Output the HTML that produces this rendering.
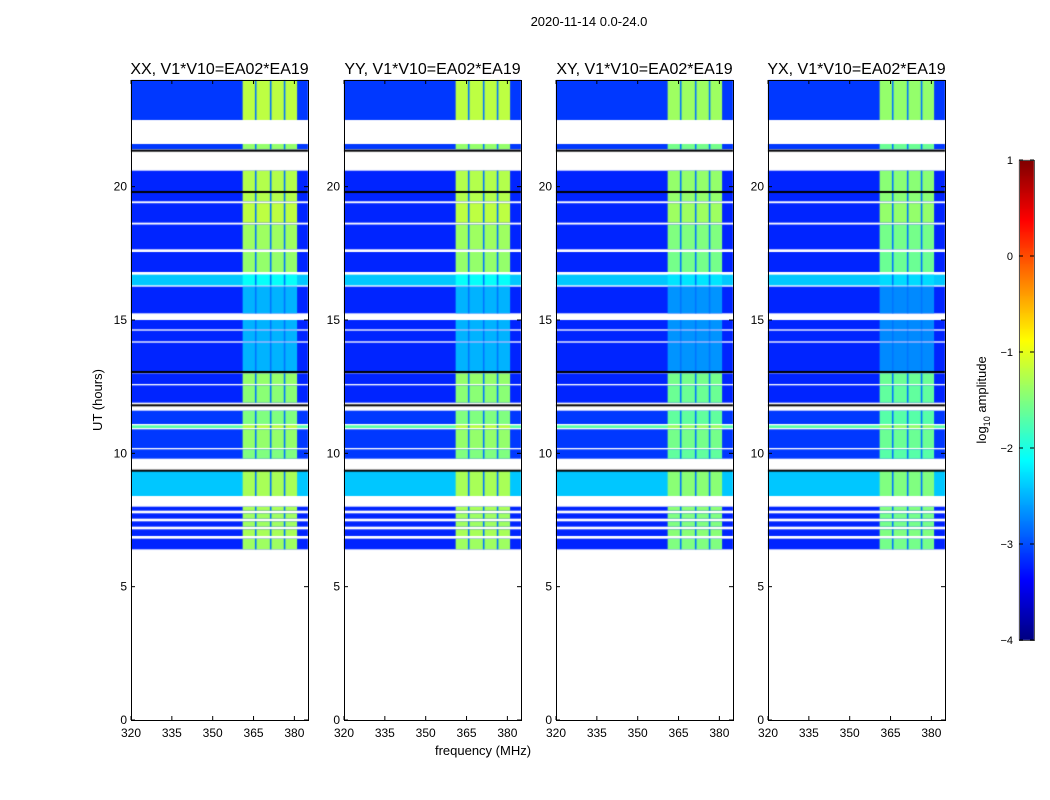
<!DOCTYPE html>
<html><head><meta charset="utf-8">
<style>
body{margin:0;background:#fff;font-family:"Liberation Sans",sans-serif;}
#wrap{position:relative;width:1050px;height:800px;overflow:hidden;}
canvas,svg{position:absolute;left:0;top:0;}
</style></head>
<body>
<div id="wrap">
<canvas id="cv" width="1050" height="800"></canvas>
<svg id="sv" width="1050" height="800"></svg>
</div>
<script>
// ---- data ----
const panelTitles = ["XX, V1*V10=EA02*EA19","YY, V1*V10=EA02*EA19","XY, V1*V10=EA02*EA19","YX, V1*V10=EA02*EA19"];
const xTicks = [320,335,350,365,380];
const yTicks = [0,5,10,15,20];
const cbTicks = [1,0,-1,-2,-3,-4];
// time segments: start hour, end hour
const segStart = [22.5,21.4,19.45,18.65,17.65,16.8,16.3,15.25,14.65,14.2,13.05,12.6,11.9,11.1,10.95,10.2,9.8,8.4,7.85,7.55,7.25,6.9,6.4];
const segEnd   = [24.0,21.6,20.6,19.38,18.58,17.55,16.7,16.25,15.0,14.6,14.15,13.0,12.55,11.6,11.05,10.9,10.15,9.35,8.0,7.75,7.45,7.15,6.8];
// log10 amplitude outside RFI band and inside band
const segBase  = [-3.1,-3.1,-3.2,-3.2,-3.2,-3.2,-2.4,-3.2,-3.2,-3.2,-3.2,-3.2,-3.2,-3.1,-1.7,-3.1,-3.1,-2.4,-3.2,-3.2,-3.2,-3.2,-3.2];
const segBand  = [-1.2,-1.4,-1.25,-1.2,-1.35,-1.4,-2.1,-2.5,-2.5,-2.5,-2.5,-1.4,-1.45,-1.5,-1.2,-1.4,-1.5,-1.3,-1.3,-1.35,-1.35,-1.3,-1.35];
const panelOffset = [0.0,0.0,-0.15,-0.2];
const bandStart = 361, bandEnd = 381;
const notchFreqs = [365.8,371.3,376.4];
const notchLevel = -2.8;
const blackLines = [21.35,19.8,13.05,11.8,9.35];

// ---- geometry ----
const lefts=[131,344,556,768], W=177, TOP=80, BOT=720;
const F0=320,F1=385,H0=0,H1=24;
function xs(p,f){return lefts[p]+(f-F0)/(F1-F0)*W;}
function ys(h){return BOT-(h-H0)/(H1-H0)*(BOT-TOP);}
function jet(v){let t=Math.max(0,Math.min(1,(v+4)/5));
 const c=x=>Math.round(255*Math.max(0,Math.min(1,1.5-Math.abs(x))));
 return `rgb(${c(4*t-3)},${c(4*t-2)},${c(4*t-1)})`;}

const cv=document.getElementById('cv'),ctx=cv.getContext('2d');
for(let p=0;p<4;p++){
 for(let i=0;i<segStart.length;i++){
  const y0=ys(segEnd[i]),y1=ys(segStart[i]);
  ctx.fillStyle=jet(segBase[i]);ctx.fillRect(xs(p,F0),y0,W,y1-y0);
  ctx.fillStyle=jet(segBand[i]+panelOffset[p]);ctx.fillRect(xs(p,bandStart),y0,xs(p,bandEnd)-xs(p,bandStart),y1-y0);
  ctx.fillStyle=jet(notchLevel);
  notchFreqs.forEach(f=>ctx.fillRect(xs(p,f)-0.8,y0,1.6,y1-y0));
 }
 ctx.fillStyle='#000';
 blackLines.forEach(h=>ctx.fillRect(lefts[p],ys(h)-1,W,2));
}
// colorbar
const cbX=1019,cbW=15,cbT=160,cbB=640;
for(let y=cbT;y<cbB;y++){const v=1-(y-cbT)/(cbB-cbT)*5;ctx.fillStyle=jet(v);ctx.fillRect(cbX,y,cbW,1);}

const sv=document.getElementById('sv');const NS='http://www.w3.org/2000/svg';
function mk(tag,attrs,txt){const e=document.createElementNS(NS,tag);for(const k in attrs)e.setAttribute(k,attrs[k]);if(txt!==undefined)e.textContent=txt;sv.appendChild(e);return e;}
for(let p=0;p<4;p++){
 const fr=mk('rect',{x:lefts[p]+0.5,y:TOP+0.5,width:W,height:BOT-TOP,fill:'none',stroke:'#000','stroke-width':1});
 
 
 const t=mk('text',{x:lefts[p]+W/2,y:74,'text-anchor':'middle','font-size':16},panelTitles[p]);
 
 
 xTicks.forEach(f=>{const x=xs(p,f);
  mk('line',{x1:x,x2:x,y1:BOT,y2:BOT-4,stroke:'#000'});mk('line',{x1:x,x2:x,y1:TOP,y2:TOP+4,stroke:'#000'});
  const l=mk('text',{x:x,y:BOT+17,'text-anchor':'middle','font-size':12},f);
  
  });
 yTicks.forEach(h=>{const y=ys(h);
  mk('line',{x1:lefts[p],x2:lefts[p]+4,y1:y,y2:y,stroke:'#000'});mk('line',{x1:lefts[p]+W,x2:lefts[p]+W-4,y1:y,y2:y,stroke:'#000'});
  const l=mk('text',{x:lefts[p]-4,y:y+4,'text-anchor':'end','font-size':12},h);
  
  });
}
const cbf=mk('rect',{x:cbX+0.5,y:cbT+0.5,width:cbW,height:cbB-cbT,fill:'none',stroke:'#555'});


cbTicks.forEach(v=>{const y=cbT+(1-v)/5*(cbB-cbT);
 mk('line',{x1:cbX,x2:cbX+4,y1:y,y2:y,stroke:'#000'});mk('line',{x1:cbX+cbW,x2:cbX+cbW-4,y1:y,y2:y,stroke:'#000'});
 const l=mk('text',{x:1013,y:y+4,'text-anchor':'end','font-size':11},v<0?'\u2212'+(-v):v);
 
 });
const st=mk('text',{x:589,y:26,'text-anchor':'middle','font-size':13},'2020-11-14 0.0-24.0');


const xl=mk('text',{x:483,y:755,'text-anchor':'middle','font-size':13},'frequency (MHz)');


const yl=mk('text',{x:0,y:0,'text-anchor':'middle','font-size':13,transform:'translate(102,400) rotate(-90)'},'UT (hours)');


const cl=mk('text',{x:0,y:0,'text-anchor':'middle','font-size':13,transform:'translate(986,400) rotate(-90)'});


cl.innerHTML='log<tspan font-size="9" dy="4">10</tspan><tspan dy="-4"> amplitude</tspan>';
</script>
</body></html>
